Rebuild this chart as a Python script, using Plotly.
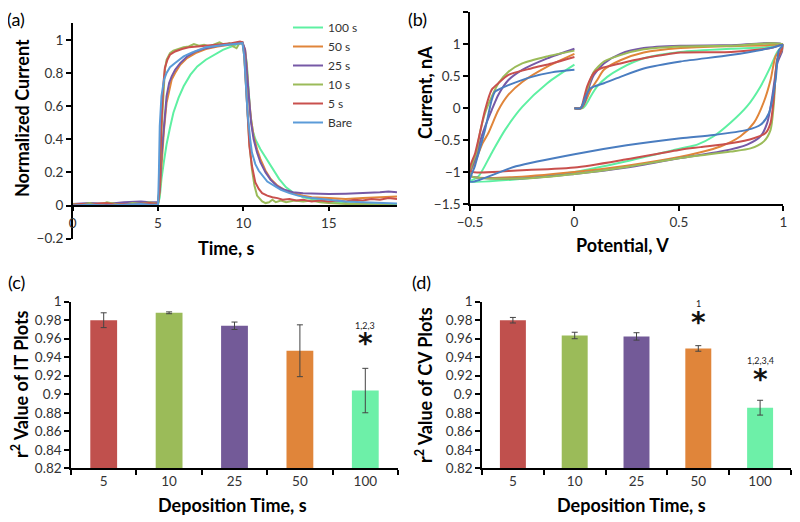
import plotly.graph_objects as go

W, H = 800, 522
OFF = 8  # page body margin of the browser (px)
FONT = "Lato"

# ---------------- Panel (a): normalized IT curves ----------------
series_a = ["100 s", "50 s", "25 s", "10 s", "5 s", "Bare"]
colors_a = ["#5EF0A2", "#E0853A", "#7659A6", "#9BBB59", "#C9504D", "#5B9BD8"]

t_100 = [0, 1, 2, 3, 4, 4.5, 5.0, 5.1, 5.2, 5.35, 5.5, 5.7, 5.9, 6.2, 6.5, 6.9, 7.3, 7.8, 8.3, 8.8, 9.3, 9.8, 9.95,
         10.1, 10.2, 10.3, 10.4, 10.55, 10.7, 11.0, 11.3, 11.7, 12.1, 12.5, 12.9, 13.5, 14.2, 15, 16, 17, 18, 19]
i_100 = [0.005, 0.01, 0.005, 0.01, 0.015, 0.01, 0.01, 0.05, 0.16, 0.27, 0.37, 0.47, 0.56, 0.65, 0.72, 0.79, 0.84, 0.88,
         0.91, 0.94, 0.96, 0.98, 0.98, 0.93, 0.86, 0.70, 0.56, 0.45, 0.40, 0.34, 0.29, 0.22, 0.16, 0.11, 0.08, 0.05,
         0.035, 0.02, 0.015, 0.01, 0.005, 0.003]

t_50 = [0, 1, 2, 3, 4, 4.5, 5.0, 5.1, 5.2, 5.35, 5.5, 5.65, 5.8, 6.0, 6.3, 6.7, 7.2, 7.8, 8.5, 9.2, 9.8, 9.95, 10.1,
        10.2, 10.3, 10.45, 10.6, 10.8, 11.0, 11.3, 11.6, 12.0, 12.4, 12.9, 13.5, 14, 15, 16, 17, 18, 19]
i_50 = [0.005, 0.01, 0.015, 0.01, 0.015, 0.01, 0.015, 0.08, 0.26, 0.46, 0.62, 0.70, 0.76, 0.80, 0.85, 0.89, 0.92, 0.945,
        0.96, 0.97, 0.98, 0.98, 0.94, 0.84, 0.68, 0.52, 0.42, 0.34, 0.28, 0.21, 0.16, 0.12, 0.095, 0.075, 0.06, 0.05,
        0.045, 0.04, 0.045, 0.05, 0.055]

t_25 = [0, 1, 2, 3, 4, 4.5, 5.0, 5.1, 5.2, 5.35, 5.5, 5.65, 5.8, 6.0, 6.3, 6.7, 7.2, 7.8, 8.5, 9.2, 9.8, 9.95, 10.1,
        10.2, 10.3, 10.45, 10.6, 10.8, 11.0, 11.3, 11.6, 12.0, 12.4, 12.9, 13.5, 14, 15, 16, 17, 18, 18.5, 19]
i_25 = [0.01, 0.015, 0.01, 0.02, 0.025, 0.02, 0.02, 0.1, 0.30, 0.50, 0.66, 0.74, 0.78, 0.82, 0.86, 0.90, 0.93, 0.95,
        0.965, 0.975, 0.985, 0.985, 0.94, 0.82, 0.66, 0.50, 0.40, 0.32, 0.26, 0.20, 0.155, 0.115, 0.095, 0.08, 0.075,
        0.072, 0.07, 0.072, 0.075, 0.08, 0.085, 0.08]

t_10 = [0, 0.5, 1, 1.5, 2, 2.5, 3, 3.5, 4, 4.5, 5.0, 5.1, 5.2, 5.3, 5.4, 5.5, 5.7, 5.9, 6.2, 6.5, 6.8, 7.1, 7.4, 7.7,
        8.0, 8.3, 8.6, 8.9, 9.2, 9.4, 9.6, 9.8, 9.95, 10.05, 10.15, 10.25, 10.35, 10.5, 10.65, 10.8, 10.95, 11.1, 11.3,
        11.5, 11.7, 11.9, 12.2, 12.5, 13, 13.5, 14, 14.5, 15, 16, 17, 18, 19]
i_10 = [0.01, 0.005, 0.015, 0.0, 0.02, 0.01, 0.005, 0.015, 0.01, 0.02, 0.01, 0.15, 0.45, 0.68, 0.82, 0.88, 0.92, 0.935,
        0.945, 0.955, 0.96, 0.975, 0.965, 0.97, 0.96, 0.975, 0.985, 0.97, 0.98, 0.96, 0.95, 0.985, 0.98, 0.90, 0.72,
        0.55, 0.38, 0.22, 0.12, 0.06, 0.04, 0.025, 0.015, 0.02, 0.035, 0.02, 0.03, 0.02, 0.03, 0.025, 0.03, 0.02,
        0.015, 0.01, 0.01, 0.005, 0.0]

t_5 = [0, 0.5, 1, 1.5, 2, 2.5, 3, 3.5, 4, 4.5, 5.0, 5.1, 5.2, 5.3, 5.4, 5.55, 5.7, 6.0, 6.4, 6.8, 7.3, 7.8, 8.3, 8.8,
       9.3, 9.8, 9.95, 10.05, 10.15, 10.25, 10.35, 10.5, 10.7, 10.9, 11.1, 11.4, 11.7, 12.0, 12.3, 12.7, 13.1, 13.5,
       14, 14.5, 15, 15.5, 16, 16.5, 17, 17.5, 18, 18.5, 19]
i_5 = [0.005, 0.01, 0.005, 0.01, 0.015, 0.005, 0.01, 0.005, 0.01, 0.015, 0.01, 0.12, 0.50, 0.72, 0.83, 0.88, 0.91,
       0.93, 0.945, 0.955, 0.96, 0.965, 0.97, 0.975, 0.98, 0.99, 0.985, 0.92, 0.72, 0.52, 0.36, 0.24, 0.14, 0.10, 0.075,
       0.06, 0.05, 0.045, 0.035, 0.04, 0.03, 0.035, 0.025, 0.03, 0.025, 0.03, 0.025, 0.035, 0.03, 0.04, 0.035, 0.045,
       0.04]

t_bare = [0, 1, 2, 3, 4, 4.5, 5.0, 5.05, 5.1, 5.2, 5.35, 5.5, 5.7, 6.0, 6.5, 7.0, 7.8, 8.5, 9.3, 9.8, 9.95, 10.05,
          10.15, 10.25, 10.4, 10.5, 10.7, 10.9, 11.4, 12.2, 12.7, 13.2, 14, 15, 16, 17, 18, 19]
i_bare = [0.0, 0.005, 0.0, 0.005, 0.01, 0.005, 0.005, 0.2, 0.48, 0.66, 0.76, 0.80, 0.835, 0.86, 0.90, 0.925, 0.955,
          0.965, 0.975, 0.98, 0.98, 0.90, 0.70, 0.55, 0.40, 0.32, 0.25, 0.21, 0.145, 0.095, 0.075, 0.06, 0.045, 0.035,
          0.025, 0.02, 0.015, 0.012]

data_a = [(t_100, i_100), (t_50, i_50), (t_25, i_25), (t_10, i_10), (t_5, i_5), (t_bare, i_bare)]

# ---------------- Panel (b): CV curves ----------------
colors_b = ["#5EF0A2", "#E0853A", "#7659A6", "#9BBB59", "#C9504D", "#4A7DC0"]

v_100 = [0, 0.04, 0.06, 0.077, 0.109, 0.157, 0.22, 0.332, 0.508, 0.75, 0.9, 1.0, 0.971, 0.939, 0.891, 0.827, 0.747,
         0.667, 0.588, 0.508, 0.25, 0, -0.3, -0.5, -0.46, -0.396, -0.332, -0.25, -0.13, 0]
c_100 = [0, 0, 0.08, 0.18, 0.34, 0.49, 0.62, 0.78, 0.88, 0.93, 0.95, 0.99, 0.88, 0.65, 0.34, 0.03, -0.23, -0.44,
         -0.57, -0.63, -0.83, -1.0, -1.12, -1.15, -1.07, -0.70, -0.34, 0.02, 0.39, 0.68]

v_50 = [0, 0.035, 0.055, 0.077, 0.109, 0.141, 0.22, 0.332, 0.508, 0.75, 0.9, 1.0, 0.963, 0.939, 0.907, 0.859, 0.795,
        0.699, 0.604, 0.508, 0.25, 0, -0.3, -0.5, -0.47, -0.44, -0.412, -0.364, -0.316, -0.25, -0.13, 0]
c_50 = [0, 0, 0.12, 0.28, 0.44, 0.60, 0.75, 0.87, 0.94, 0.97, 0.98, 0.99, 0.81, 0.44, 0.10, -0.23, -0.44, -0.60,
        -0.69, -0.76, -0.9, -1.0, -1.08, -1.06, -0.8, -0.55, -0.39, -0.03, 0.21, 0.41, 0.65, 0.85]

v_25 = [0, 0.03, 0.05, 0.061, 0.077, 0.093, 0.141, 0.22, 0.332, 0.508, 0.75, 1.0, 0.971, 0.947, 0.923, 0.891, 0.827,
        0.699, 0.508, 0.25, 0, -0.25, -0.5, -0.47, -0.445, -0.428, -0.396, -0.364, -0.316, -0.25, -0.13, 0]
c_25 = [0, 0, 0.1, 0.23, 0.40, 0.52, 0.70, 0.85, 0.94, 0.975, 0.985, 0.99, 0.70, 0.18, -0.23, -0.44, -0.57, -0.68,
        -0.78, -0.93, -1.03, -1.1, -1.05, -0.75, -0.45, -0.29, -0.03, 0.21, 0.44, 0.60, 0.78, 0.93]

v_10 = [0, 0.03, 0.045, 0.061, 0.077, 0.093, 0.141, 0.22, 0.332, 0.508, 0.75, 1.0, 0.97, 0.955, 0.939, 0.907, 0.843,
        0.747, 0.508, 0.25, 0, -0.25, -0.5, -0.47, -0.45, -0.428, -0.396, -0.364, -0.316, -0.25, -0.13, 0]
c_10 = [0, 0, 0.1, 0.29, 0.45, 0.57, 0.73, 0.83, 0.92, 0.965, 0.975, 0.99, 0.75, 0.08, -0.34, -0.52, -0.63, -0.68,
        -0.78, -0.92, -1.03, -1.1, -1.05, -0.7, -0.35, -0.08, 0.18, 0.39, 0.57, 0.70, 0.81, 0.90]

v_5 = [0, 0.03, 0.045, 0.061, 0.093, 0.125, 0.22, 0.332, 0.508, 0.75, 0.939, 1.0, 0.97, 0.955, 0.939, 0.915, 0.859,
       0.747, 0.604, 0.508, 0.25, 0, -0.25, -0.5, -0.475, -0.45, -0.428, -0.396, -0.364, -0.316, -0.204, -0.109, 0]
c_5 = [0, 0, 0.15, 0.34, 0.55, 0.62, 0.70, 0.78, 0.87, 0.88, 0.94, 0.99, 0.75, 0.18, -0.23, -0.39, -0.47, -0.55,
       -0.61, -0.65, -0.8, -0.93, -0.97, -0.98, -0.7, -0.35, -0.03, 0.29, 0.39, 0.52, 0.625, 0.70, 0.80]

v_bare = [0, 0.03, 0.053, 0.077, 0.141, 0.22, 0.332, 0.508, 0.747, 0.939, 1.0, 0.979, 0.963, 0.931, 0.891, 0.827,
          0.667, 0.508, 0.25, 0, -0.28, -0.5, -0.476, -0.45, -0.428, -0.396, -0.38, -0.364, -0.316, -0.204, -0.109, 0]
c_bare = [0, 0, 0.18, 0.31, 0.39, 0.49, 0.62, 0.73, 0.83, 0.94, 0.99, 0.91, 0.44, -0.08, -0.26, -0.34, -0.42, -0.47,
          -0.58, -0.72, -0.91, -1.15, -0.9, -0.6, -0.34, 0.13, 0.26, 0.29, 0.36, 0.49, 0.56, 0.60]

data_b = [(v_100, c_100), (v_50, c_50), (v_25, c_25), (v_10, c_10), (v_5, c_5), (v_bare, c_bare)]

# ---------------- Panels (c), (d): bar charts ----------------
dep_times = ["5", "10", "25", "50", "100"]
bar_colors = ["#C0504D", "#9BBB59", "#735A98", "#E0853A", "#6DF0A8"]
r2_it = [0.980, 0.988, 0.974, 0.947, 0.904]
r2_it_err = [0.008, 0.001, 0.004, 0.028, 0.024]
r2_cv = [0.980, 0.9635, 0.9625, 0.9495, 0.8855]
r2_cv_err = [0.003, 0.0035, 0.004, 0.003, 0.008]
# significance labels: (panel, category, label, label value, star value)
sig_labels = [("c", "100", "1,2,3", 0.974, 0.9545),
              ("d", "50", "1", 0.9985, 0.978),
              ("d", "100", "1,2,3,4", 0.936, 0.9155)]


def fx(p):
    return (p - OFF) / W


def fy(p):
    return 1 - (p - OFF) / H


fig = go.Figure()

for name, col, (t, v) in zip(series_a, colors_a, data_a):
    fig.add_trace(go.Scatter(x=t, y=v, mode="lines", name=name, line=dict(color=col, width=2),
                             xaxis="x", yaxis="y", showlegend=True))

for name, col, (v, c) in zip(series_a, colors_b, data_b):
    fig.add_trace(go.Scatter(x=v, y=c, mode="lines", name=name, line=dict(color=col, width=2, shape="spline",
                                                                         smoothing=0.7),
                             xaxis="x2", yaxis="y2", showlegend=False))

fig.add_trace(go.Bar(x=dep_times, y=r2_it, marker=dict(color=bar_colors, line=dict(width=0)), width=0.41,
                     error_y=dict(type="data", array=r2_it_err, color="#444", thickness=1, width=3),
                     xaxis="x3", yaxis="y3", showlegend=False))
fig.add_trace(go.Bar(x=dep_times, y=r2_cv, marker=dict(color=bar_colors, line=dict(width=0)), width=0.42,
                     error_y=dict(type="data", array=r2_cv_err, color="#444", thickness=1, width=3),
                     xaxis="x4", yaxis="y4", showlegend=False))

tickfont = dict(family=FONT, size=13.5, color="#333333")
ax_common = dict(showline=True, linecolor="black", linewidth=1.5, ticks="outside", ticklen=5, tickcolor="black",
                 tickwidth=1.5, showgrid=False, zeroline=False, tickfont=tickfont, automargin=False)

# y position of value 0 in panel (a)
ya_dom = [fy(238.7), fy(23.3)]
ya_rng = [-0.2, 1.1]
zero_pos = ya_dom[0] + (0 - ya_rng[0]) / (ya_rng[1] - ya_rng[0]) * (ya_dom[1] - ya_dom[0])

cat_axis = dict(type="category", categoryorder="array", categoryarray=dep_times, range=[-0.5, len(dep_times) - 0.5],
                tickson="boundaries")

fig.update_layout(
    width=W, height=H, margin=dict(l=0, r=0, t=0, b=0, autoexpand=False), paper_bgcolor="white",
    plot_bgcolor="white", font=dict(family=FONT, color="black"),
    xaxis=dict(domain=[fx(72.7), fx(397)], range=[0, 19], tickvals=[0, 5, 10, 15], anchor="free",
               position=zero_pos, **ax_common),
    yaxis=dict(domain=ya_dom, range=ya_rng, tickvals=[-0.2, 0, 0.2, 0.4, 0.6, 0.8, 1], anchor="x", **ax_common),
    xaxis2=dict(domain=[fx(470), fx(783.3)], range=[-0.5, 1], tickvals=[-0.5, 0, 0.5, 1], anchor="y2", **ax_common),
    yaxis2=dict(domain=[fy(204), fy(12.3)], range=[-1.5, 1.5], dtick=0.5, anchor="x2", **ax_common),
    xaxis3=dict(domain=[fx(71), fx(398)], anchor="y3", **cat_axis, **ax_common),
    yaxis3=dict(domain=[fy(468.3), fy(301.7)], range=[0.82, 1.0], dtick=0.02, anchor="x3", **ax_common),
    xaxis4=dict(domain=[fx(482), fx(791)], anchor="y4", **cat_axis, **ax_common),
    yaxis4=dict(domain=[fy(468.3), fy(301.7)], range=[0.82, 1.0], dtick=0.02, anchor="x4", **ax_common),
    legend=dict(x=fx(288), y=fy(13), xanchor="left", yanchor="top", bgcolor="rgba(0,0,0,0)",
                font=dict(family=FONT, size=12, color="#333333"), itemwidth=30, tracegroupgap=0),
)

ann = []


def paper_text(text, x, y, size=18, bold=True, angle=0):
    ann.append(dict(text=("<b>%s</b>" % text) if bold else text, x=fx(x), y=fy(y), xref="paper", yref="paper",
                    showarrow=False, textangle=angle, xanchor="center", yanchor="middle",
                    font=dict(family=FONT, size=size, color="black")))


paper_text("(a)", 16, 19, size=18, bold=False)
paper_text("(b)", 417, 19, size=18, bold=False)
paper_text("(c)", 16, 282, size=18, bold=False)
paper_text("(d)", 422, 282, size=18, bold=False)
paper_text("Normalized Current", 22, 118, angle=-90)
paper_text("Time, s", 226, 248)
paper_text("Current, nA", 425, 93, angle=-90)
paper_text("Potential, V", 622, 245)
paper_text("r<sup>2</sup> Value of IT Plots", 20, 384, angle=-90)
paper_text("Deposition Time, s", 232, 505)
paper_text("r<sup>2</sup> Value of CV Plots", 424, 385, angle=-90)
paper_text("Deposition Time, s", 631, 505)

# significance markers (x given as category index)
for panel, cat, label, yl, ys in sig_labels:
    xr, yr = ("x3", "y3") if panel == "c" else ("x4", "y4")
    xi = dep_times.index(cat)
    ann.append(dict(text=label, x=xi, y=yl, xref=xr, yref=yr, showarrow=False, xanchor="center",
                    yanchor="middle", font=dict(family=FONT, size=9, color="#222")))
    ann.append(dict(text="<b>*</b>", x=xi, y=ys, xref=xr, yref=yr, showarrow=False, xanchor="center",
                    yanchor="middle", font=dict(family="DejaVu Sans", size=28, color="#111")))

fig.update_layout(annotations=ann)
fig.write_html("out.html")
